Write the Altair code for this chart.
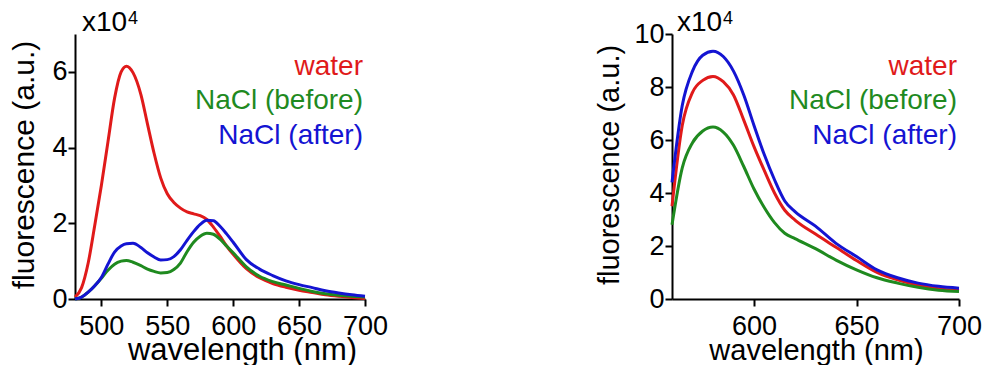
import altair as alt
import pandas as pd

# ---- emission spectra, fluorescence in units of 1e4 ----
wl_a = [480, 485, 490, 495, 500, 505, 510, 515, 519, 524, 530, 535, 540, 545,
        550, 555, 560, 565, 570, 575, 580, 585, 590, 595, 600, 610, 620, 630,
        640, 650, 660, 670, 680, 690, 700]
water_a = [0.05, 0.30, 0.95, 1.95, 3.00, 4.15, 5.30, 6.00, 6.15, 5.98, 5.40, 4.62,
           3.85, 3.20, 2.78, 2.55, 2.40, 2.30, 2.25, 2.20, 2.10, 1.90, 1.66, 1.40,
           1.18, 0.80, 0.56, 0.41, 0.31, 0.23, 0.17, 0.11, 0.07, 0.04, 0.01]
before_a = [0.00, 0.05, 0.18, 0.35, 0.55, 0.76, 0.92, 1.00, 1.02, 0.97, 0.88, 0.79,
            0.73, 0.69, 0.70, 0.78, 0.95, 1.25, 1.50, 1.66, 1.74, 1.71, 1.58, 1.40,
            1.22, 0.85, 0.60, 0.46, 0.37, 0.28, 0.20, 0.14, 0.10, 0.07, 0.05]
after_a = [0.00, 0.05, 0.18, 0.35, 0.57, 0.92, 1.24, 1.40, 1.46, 1.47, 1.36, 1.22,
           1.11, 1.03, 1.04, 1.12, 1.30, 1.55, 1.78, 1.97, 2.08, 2.07, 1.92, 1.72,
           1.50, 1.04, 0.79, 0.62, 0.48, 0.38, 0.30, 0.22, 0.16, 0.11, 0.07]

wl_b = [560, 565, 570, 575, 580, 585, 590, 595, 600, 605, 610, 615, 620, 630,
        640, 650, 660, 670, 680, 690, 700]
water_b = [3.50, 6.55, 7.80, 8.25, 8.40, 8.20, 7.70, 6.75, 5.75, 4.85, 4.00, 3.35,
           2.98, 2.45, 1.95, 1.45, 1.00, 0.72, 0.52, 0.39, 0.32]
before_b = [2.80, 4.95, 5.90, 6.34, 6.49, 6.30, 5.80, 5.00, 4.15, 3.45, 2.88, 2.48,
            2.28, 1.90, 1.47, 1.10, 0.80, 0.60, 0.44, 0.33, 0.28]
after_b = [4.40, 7.30, 8.60, 9.20, 9.35, 9.15, 8.60, 7.70, 6.55, 5.45, 4.50, 3.70,
           3.30, 2.75, 2.10, 1.60, 1.10, 0.80, 0.60, 0.48, 0.41]

series = ["water", "NaCl (before)", "NaCl (after)"]
colors = ["#e01a1a", "#1f8a1f", "#1414d2"]
label_rows = [41, 75, 110]

FONT = "Liberation Sans"


def long_table(wl, *cols):
    rows = []
    for name, vals in zip(series, cols):
        for w, v in zip(wl, vals):
            rows.append({"wavelength": w, "fluorescence": v, "sample": name})
    return pd.DataFrame(rows)


def panel(df, x_dom, y_max, x_ticks, y_ticks, w, h, xt_size, xt_x, yt_size, yt_x,
          sup_dx, sup_dy):
    x = alt.X(
        "wavelength:Q",
        scale=alt.Scale(domain=x_dom, nice=False, zero=False),
        axis=alt.Axis(
            values=x_ticks,
            labelExpr="datum.value % 50 == 0 ? datum.label : ''",
            title="wavelength (nm)",
            titleFontSize=xt_size,
            titleX=xt_x,
            titleY=60,
            titleBaseline="alphabetic",
            titleAnchor="start",
            titleAlign="center",
            labelPadding=7,
        ),
    )
    y = alt.Y(
        "fluorescence:Q",
        scale=alt.Scale(domain=[0, y_max], nice=False),
        axis=alt.Axis(
            values=y_ticks,
            title="fluorescence (a.u.)",
            titleFontSize=yt_size,
            titleX=yt_x,
            titleY=h / 2 - 2,
            titleBaseline="alphabetic",
            titleAlign="center",
            labelPadding=1,
        ),
    )
    lines = alt.Chart(df).mark_line(strokeWidth=3, interpolate="monotone").encode(
        x=x,
        y=y,
        color=alt.Color("sample:N", scale=alt.Scale(domain=series, range=colors),
                        legend=None),
        detail="sample:N",
    )

    # sample labels, right-aligned in the upper right corner
    labels = [
        alt.Chart(pd.DataFrame({"t": [name]})).mark_text(
            align="right", baseline="alphabetic", font=FONT, fontSize=28, dx=-2,
            color=col
        ).encode(x=alt.value(w), y=alt.value(row), text="t:N")
        for name, col, row in zip(series, colors, label_rows)
    ]

    # exponent marker at the top of the y axis
    mult = alt.Chart(pd.DataFrame({"t": ["x10"]})).mark_text(
        align="left", baseline="alphabetic", font=FONT, fontSize=28,
        dx=sup_dx, dy=sup_dy, color="black"
    ).encode(x=alt.datum(x_dom[0]), y=alt.datum(y_max), text="t:N")
    power = alt.Chart(pd.DataFrame({"t": ["4"]})).mark_text(
        align="left", baseline="alphabetic", font=FONT, fontSize=18,
        dx=sup_dx + 46, dy=sup_dy - 7, color="black"
    ).encode(x=alt.datum(x_dom[0]), y=alt.datum(y_max), text="t:N")

    return alt.layer(lines, *labels, mult, power).properties(width=w, height=h)


left = panel(long_table(wl_a, water_a, before_a, after_a),
             [480, 700], 7, list(range(500, 701, 25)), [0, 2, 4, 6],
             290, 265, 31, 167, 30, -42, 7, -3)
right = panel(long_table(wl_b, water_b, before_b, after_b),
              [560, 700], 10, [600, 650, 700], [0, 2, 4, 6, 8, 10],
              287, 265, 29, 144, 29, -54, 5, -3)

chart = alt.hconcat(left, right, spacing=307, bounds="flush").properties(
    padding={"left": 8, "top": 9, "right": 0, "bottom": 0},
    background="white",
).configure_view(stroke=None).configure_axis(
    grid=False,
    domainColor="black",
    domainWidth=2,
    tickColor="black",
    tickWidth=2,
    tickSize=7,
    labelFont=FONT,
    labelFontSize=27,
    labelColor="black",
    labelFlush=False,
    labelOverlap=False,
    titleFont=FONT,
    titleFontWeight="normal",
    titleColor="black",
)

chart.save("out.html", embed_options={"renderer": "svg", "actions": False})
